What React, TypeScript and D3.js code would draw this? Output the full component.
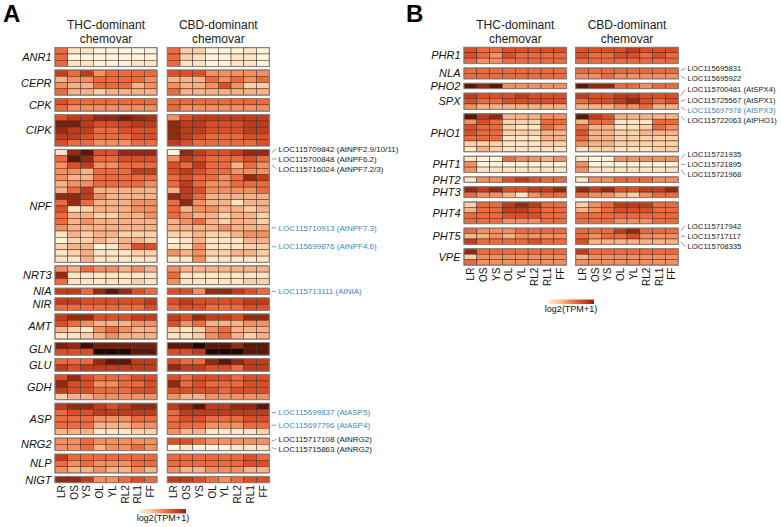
import React from 'react';
import * as d3 from 'd3';

// ---------- categories ----------
const SAMPLES = ['LR', 'OS', 'YS', 'OL', 'YL', 'RL2', 'RL1', 'FF'];
const CHEMOVARS = ['THC-dominant', 'CBD-dominant'];
const CHEMOVAR_SUFFIX = 'chemovar';

// ---------- Panel A values (relative log2(TPM+1), 0 = lowest, 10 = highest) ----------
const ANR1_THC = [[5,1,1,0,0,0,0,0],[5,0,0,0,0,0,0,0],[5,1,1,0,0,0,1,1]];
const ANR1_CBD = [[5,2,2,0,0,0,1,0],[5,2,1,0,0,1,1,0],[5,1,1,0,0,1,1,0]];
const CEPR_THC = [[7,5,7,4,5,5,5,5],[3,4,4,5,5,5,5,4],[4,3,3,5,5,5,3,4],[5,3,3,2,3,3,3,3]];
const CEPR_CBD = [[6,6,6,4,4,4,4,4],[3,3,3,5,4,5,4,5],[4,3,3,4,6,4,2,2],[5,3,3,3,3,3,3,3]];
const CPK_THC = [[6,5,5,5,5,5,5,5],[5,4,4,4,4,4,4,4]];
const CPK_CBD = [[5,5,5,5,5,5,5,5],[5,4,4,4,4,4,4,4]];
const CIPK_THC = [[6,7,7,8,8,8.5,8,7.5],[8.5,8.5,7,6,6,6.5,7,7],[8,7,7,5,5,6,6,6],[7,7,6,5,5,5,6,6],[6,5,5,4,4,4,5,5]];
const CIPK_CBD = [[4,6,7,7,7,7,7,7],[8,7,7,6,6,6,7,7],[8,7,7,6,6,6,7,7],[8,7,6,5,5,5,6,6],[7,6,5,5,5,5,5,6]];
const NPF_THC = [
  [1,8,9,6,6,8,8,8],[5,9,8,5,5,6,6,6],[4,6,7,4,4,5,5,5],[4,4,3,5,5,5,7,7],
  [4,3,3,5,5,5,5,5],[3,4,4,5,5,5,5,4],[3,5,7,3,3,3,3,3],[8,8,7,4,3,3,3,3],
  [5,8,5,3,3,3,4,4],[6,1,2,3,3,3,4,4],[5,3,3,2,2,3,3,4],[5,3,4,3,3,3,3,3],
  [4,3,3,3,3,3,3,3],[1,3,2,3,3,2,2,2],[0,2,2,3,2,3,3,2],[2,3,3,0,1,3,6,6],
  [1,2,3,1,1,1,2,2],[1,1,3,1,1,1,1,1],
];
const NPF_CBD = [
  [0,8,7,6,6,7,8,8],[4,7,6,5,5,5,6,5],[6,5,7,5,5,3,5,4],[6,7,6,5,5,4,4,4],
  [5,6,5,5,4,5,8,7],[5,7,5,4,4,5,5,5],[3,7,6,4,4,4,4,5],[8,7,5,3,3,3,3,3],
  [5,8,4,3,3,1,3,3],[5,3,4,4,3,3,2,3],[5,4,3,3,2,3,3,2],[3,4,5,3,2,3,3,2],
  [3,3,3,3,4,3,3,3],[2,2,3,2,2,3,4,4],[0,1,3,1,1,1,3,3],[1,1,4,1,1,1,2,2],
  [4,3,4,2,2,3,3,2],[1,1,4,1,1,1,1,1],
];
const NRT3_THC = [[4,3,5,4,4,3,4,3],[8,1,1,1,1,1,1,1],[5,1,1,1,1,1,2,1]];
const NRT3_CBD = [[4,3,3,3,3,3,3,3],[5,1,1,1,1,1,1,1],[4,1,1,1,1,1,2,2]];
const NIA_THC = [[7,7,5,8,9,8,6,5]];
const NIA_CBD = [[6,6,4,8,8,7,6,5]];
const NIR_THC = [[7,7,6,6,6,6,6,7],[5,5,5,5,5,5,5,6]];
const NIR_CBD = [[6,7,6,6,6,6,7,7],[5,6,6,5,5,5,6,6]];
const AMT_THC = [[7,8,8,6,6,6,7,7],[6,5,4,3,3,3,4,4],[3,2,1,4,5,4,3,3],[1,1,2,3,4,3,3,3]];
const AMT_CBD = [[7,6,8,7,7,6,8,8],[6,4,5,3,3,3,4,4],[2,1,2,4,5,3,3,3],[1,1,2,4,5,3,2,3]];
const GLN_THC = [[8.5,8,9.5,8.5,8.5,8.5,8.5,8.5],[6,6,6,10,10,10,9,9]];
const GLN_CBD = [[9,9,10,9,9,8,9,9],[6,6,7,10,10,10,9,9]];
const GLU_THC = [[5,5,5,8,9,9,7,7],[7,6,7,7,7,7,7,7]];
const GLU_CBD = [[6,5,5,8,9,8,7,7],[8,7,7,6,6,5,7,7]];
const GDH_THC = [[6,8,6,5,5,5,6,6],[8,6,6,4,4,5,5,6],[7,6,6,5,5,5,6,6],[2,3,3,4,4,4,4,4]];
const GDH_CBD = [[6,5,6,6,6,5,6,6],[8,5,6,5,5,5,6,6],[6,6,6,6,5,6,6,6],[4,3,3,4,4,4,4,4]];
const ASP_THC = [[7,8,8,7,6,7,8,8],[5,6,6,7,7,7,7,7],[5,5,5,4,4,4,5,5],[5,5,5,3,3,3,4,4],[3,3,3,1,1,1,2,2]];
const ASP_CBD = [[7,8,9,7,7,8,8,9],[5,7,7,7,7,7,7,7],[5,6,6,5,5,5,6,6],[5,5,5,4,4,4,5,5],[4,3,3,1,1,1,1,2]];
const NRG2_THC = [[4,4,5,4,4,4,4,4],[4,4,5,3,4,4,5,4]];
const NRG2_CBD = [[6,6,5,4,4,4,4,4],[0,1,0,0,0,1,1,1]];
const NLP_THC = [[7,5,5,5,5,5,5,5],[5,4,5,4,4,4,5,5],[4,3,3,4,3,3,4,3]];
const NLP_CBD = [[5,5,5,5,5,5,6,5],[5,5,5,5,5,5,6,6],[4,3,3,4,4,4,3,3]];
const NIGT_THC = [[8,8,7,4,4,5,6,5]];
const NIGT_CBD = [[7,7,6,5,4,5,6,6]];

// ---------- Panel B values ----------
const PHR1_THC = [[6,5,5,6,6,6,6,6],[6,5,4,6,5,5,5,5],[5,4,4,5,5,5,5,5]];
const PHR1_CBD = [[6,6,6,6,7,6,6,6],[6,5,5,6,6,5,6,5],[5,5,5,5,5,5,5,5]];
const NLA_THC = [[5,5,5,5,5,5,5,5],[5,5,5,5,5,5,5,5]];
const NLA_CBD = [[5,5,5,5,5,5,5,5],[4,4,5,4,4,4,4,4]];
const PHO2_THC = [[9,8,9,4,4,4,4,4]];
const PHO2_CBD = [[9,8,8,5,5,4,5,5]];
const SPX_THC = [[7,6,6,6,7,6,6,6],[6,5,5,6,6,6,6,6],[4,3,3,3,3,3,3,3]];
const SPX_CBD = [[7,6,6,7,7,6,6,6],[5,6,6,7,8,6,5,6],[3,3,3,4,4,5,3,3]];
const PHO1_THC = [[9,7,8,3,3,3,4,4],[4,6,5,2,2,2,5,5],[6,5,5,2,1,1,5,4],[6,5,5,2,2,2,3,3],[5,5,5,1,1,1,3,3],[2,2,2,1,1,1,2,2],[1,3,2,1,1,1,1,1]];
const PHO1_CBD = [[9,7,6,3,3,3,3,3],[3,5,5,1,1,1,5,5],[5,3,3,1,1,2,5,4],[6,3,3,2,2,3,3,3],[5,3,3,2,2,2,2,2],[4,3,3,2,2,2,2,2],[1,2,2,1,1,1,2,2]];
const PHT1_THC = [[1,0,0,5,4,4,3,4],[4,0,0,0,0,0,0,0],[4,1,1,1,1,1,1,1]];
const PHT1_CBD = [[1,0,0,4,4,4,4,4],[4,0,0,0,0,0,0,0],[4,1,1,1,1,1,1,1]];
const PHT2_THC = [[1,4,4,6,7,6,5,5]];
const PHT2_CBD = [[1,4,4,5,5,5,4,4]];
const PHT3_THC = [[8,7,8,6,6,7,7,8],[5,4,4,3,1,4,5,5]];
const PHT3_CBD = [[8,7,8,6,6,7,7,8],[5,4,4,3,2,4,5,5]];
const PHT4_THC = [[2,5,5,7,8,7,5,5],[3,5,5,7,7,6,5,5],[5,5,5,6,6,6,5,5],[5,5,5,4,4,4,5,5]];
const PHT4_CBD = [[2,4,5,7,7,7,5,5],[3,4,5,6,6,6,5,5],[5,5,5,5,5,5,5,5],[5,5,5,4,4,4,5,5]];
const PHT5_THC = [[5,4,4,4,5,5,5,5],[3,3,4,3,4,4,4,4],[7,5,5,5,5,6,5,5]];
const PHT5_CBD = [[5,5,5,7,8,5,5,5],[5,4,5,5,6,4,4,4],[6,3,3,3,3,3,3,3]];
const VPE_THC = [[8,5,5,5,5,5,5,5],[2,4,4,4,4,4,4,4],[5,4,4,4,4,4,4,4]];
const VPE_CBD = [[7,5,5,5,5,5,5,5],[3,4,4,4,4,4,4,4],[4,4,4,4,4,4,4,4]];

type Group = { name: string; thc: number[][]; cbd: number[][] };
type Label = { group: string; row: number; text: string; blue?: boolean };

const GROUPS_A: Group[] = [
  { name: 'ANR1', thc: ANR1_THC, cbd: ANR1_CBD },
  { name: 'CEPR', thc: CEPR_THC, cbd: CEPR_CBD },
  { name: 'CPK', thc: CPK_THC, cbd: CPK_CBD },
  { name: 'CIPK', thc: CIPK_THC, cbd: CIPK_CBD },
  { name: 'NPF', thc: NPF_THC, cbd: NPF_CBD },
  { name: 'NRT3', thc: NRT3_THC, cbd: NRT3_CBD },
  { name: 'NIA', thc: NIA_THC, cbd: NIA_CBD },
  { name: 'NIR', thc: NIR_THC, cbd: NIR_CBD },
  { name: 'AMT', thc: AMT_THC, cbd: AMT_CBD },
  { name: 'GLN', thc: GLN_THC, cbd: GLN_CBD },
  { name: 'GLU', thc: GLU_THC, cbd: GLU_CBD },
  { name: 'GDH', thc: GDH_THC, cbd: GDH_CBD },
  { name: 'ASP', thc: ASP_THC, cbd: ASP_CBD },
  { name: 'NRG2', thc: NRG2_THC, cbd: NRG2_CBD },
  { name: 'NLP', thc: NLP_THC, cbd: NLP_CBD },
  { name: 'NIGT', thc: NIGT_THC, cbd: NIGT_CBD },
];

const GROUPS_B: Group[] = [
  { name: 'PHR1', thc: PHR1_THC, cbd: PHR1_CBD },
  { name: 'NLA', thc: NLA_THC, cbd: NLA_CBD },
  { name: 'PHO2', thc: PHO2_THC, cbd: PHO2_CBD },
  { name: 'SPX', thc: SPX_THC, cbd: SPX_CBD },
  { name: 'PHO1', thc: PHO1_THC, cbd: PHO1_CBD },
  { name: 'PHT1', thc: PHT1_THC, cbd: PHT1_CBD },
  { name: 'PHT2', thc: PHT2_THC, cbd: PHT2_CBD },
  { name: 'PHT3', thc: PHT3_THC, cbd: PHT3_CBD },
  { name: 'PHT4', thc: PHT4_THC, cbd: PHT4_CBD },
  { name: 'PHT5', thc: PHT5_THC, cbd: PHT5_CBD },
  { name: 'VPE', thc: VPE_THC, cbd: VPE_CBD },
];

const LABELS_A: Label[] = [
  { group: 'NPF', row: 0, text: 'LOC115709842 (AtNPF2.9/10/11)' },
  { group: 'NPF', row: 1, text: 'LOC115700848 (AtNPF6.2)' },
  { group: 'NPF', row: 2, text: 'LOC115716024 (AtNPF7.2/3)' },
  { group: 'NPF', row: 12, text: 'LOC115710913 (AtNPF7.3)', blue: true },
  { group: 'NPF', row: 15, text: 'LOC115699876 (AtNPF4.6)', blue: true },
  { group: 'NIA', row: 0, text: 'LOC115713111 (AtNIA)', blue: true },
  { group: 'ASP', row: 1, text: 'LOC115699837 (AtASP5)', blue: true },
  { group: 'ASP', row: 3, text: 'LOC115697796 (AtASP4)', blue: true },
  { group: 'NRG2', row: 0, text: 'LOC115717108 (AtNRG2)' },
  { group: 'NRG2', row: 1, text: 'LOC115715863 (AtNRG2)' },
];

const LABELS_B: Label[] = [
  { group: 'NLA', row: 0, text: 'LOC115695831' },
  { group: 'NLA', row: 1, text: 'LOC115695922' },
  { group: 'SPX', row: 0, text: 'LOC115700481 (AtSPX4)' },
  { group: 'SPX', row: 1, text: 'LOC115725567 (AtSPX1)' },
  { group: 'SPX', row: 2, text: 'LOC115697978 (AtSPX3)', blue: true },
  { group: 'PHO1', row: 0, text: 'LOC115722063 (AtPHO1)' },
  { group: 'PHT1', row: 0, text: 'LOC115721935' },
  { group: 'PHT1', row: 1, text: 'LOC115721895' },
  { group: 'PHT1', row: 2, text: 'LOC115721968' },
  { group: 'PHT5', row: 0, text: 'LOC115717942' },
  { group: 'PHT5', row: 1, text: 'LOC115717117' },
  { group: 'PHT5', row: 2, text: 'LOC115708335' },
];

const LEGEND_TITLE = 'log2(TPM+1)';

// ---------- styling ----------
const FONT = '"Liberation Sans", Arial, Helvetica, sans-serif';
const color = d3
  .scaleLinear<string>()
  .domain([0, 1, 2, 3, 4, 5, 6, 7, 8, 9, 10])
  .range(['#fff4dd', '#fee5c5', '#fcd0a8', '#f9b287', '#f48f61', '#ec6a3d', '#dc4e27', '#bf3c1d', '#922a14', '#5a170a', '#200604'])
  .interpolate(d3.interpolateRgb)
  .clamp(true);

function spread(targets: number[], spacing: number): number[] {
  let clusters = targets.map((t) => ({ items: [t] }));
  const start = (c: { items: number[] }) => (d3.mean(c.items) as number) - ((c.items.length - 1) * spacing) / 2;
  let merged = true;
  while (merged) {
    merged = false;
    for (let i = 1; i < clusters.length; i++) {
      const a = clusters[i - 1];
      const b = clusters[i];
      const aEnd = start(a) + (a.items.length - 1) * spacing;
      if (start(b) - aEnd < spacing) {
        clusters.splice(i - 1, 2, { items: [...a.items, ...b.items] });
        merged = true;
        break;
      }
    }
  }
  return clusters.flatMap((c) => c.items.map((_, k) => start(c) + k * spacing));
}

type PanelProps = {
  letter: string;
  letterX: number;
  xThc: number;
  xCbd: number;
  blockW: number;
  top: number;
  bottom: number;
  gap: number;
  groups: Group[];
  labels: Label[];
  labelFont: number;
  labelSpacing: number;
  legendX: number;
  legendY: number;
  gradId: string;
};

function Panel(p: PanelProps) {
  const totalRows = d3.sum(p.groups, (g) => g.thc.length);
  const rowH = (p.bottom - p.top - p.gap * (p.groups.length - 1)) / totalRows;
  const x = d3.scaleBand<string>().domain(SAMPLES).range([0, p.blockW]).padding(0);
  const cw = x.bandwidth();

  let yCursor = p.top;
  const layout = p.groups.map((g) => {
    const y0 = yCursor;
    const h = g.thc.length * rowH;
    yCursor += h + p.gap;
    return { g, y0, h };
  });
  const yOf = (name: string) => layout.find((l) => l.g.name === name)!;

  const blocks = [
    { x0: p.xThc, key: 'thc' as const, title: CHEMOVARS[0] },
    { x0: p.xCbd, key: 'cbd' as const, title: CHEMOVARS[1] },
  ];
  const xRight = p.xCbd + p.blockW;

  const targets = p.labels.map((l) => yOf(l.group).y0 + (l.row + 0.5) * rowH);
  const labelYs = spread(targets, p.labelSpacing);

  const legendW = 46;
  const legendH = 4.5;

  return (
    <g>
      <text x={p.letterX} y={21.5} fontSize={24} fontWeight="bold" fontFamily={FONT} fill="#000">
        {p.letter}
      </text>
      {blocks.map((b) => (
        <g key={b.key}>
          <text x={b.x0 + p.blockW / 2} y={29.4} fontSize={12} fontFamily={FONT} fill="#222" textAnchor="middle">
            {b.title}
          </text>
          <text x={b.x0 + p.blockW / 2} y={42.9} fontSize={12} fontFamily={FONT} fill="#222" textAnchor="middle">
            {CHEMOVAR_SUFFIX}
          </text>
        </g>
      ))}
      {layout.map(({ g, y0, h }) => (
        <g key={g.name}>
          <text
            x={p.xThc - 3.5}
            y={y0 + h / 2}
            dy="0.36em"
            fontSize={11}
            fontStyle="italic"
            fontFamily={FONT}
            textAnchor="end"
            fill="#111"
          >
            {g.name}
          </text>
          {blocks.map((b) => (
            <g key={b.key}>
              {g[b.key].map((row, ri) =>
                row.map((v, ci) => (
                  <rect
                    key={`${ri}-${ci}`}
                    x={b.x0 + (x(SAMPLES[ci]) as number)}
                    y={y0 + ri * rowH}
                    width={cw}
                    height={rowH}
                    fill={color(v)}
                    stroke="#3e2c22"
                    strokeWidth={0.5}
                  />
                ))
              )}
              <rect x={b.x0} y={y0} width={p.blockW} height={h} fill="none" stroke="#8a7e76" strokeWidth={1.1} />
            </g>
          ))}
        </g>
      ))}
      {blocks.map((b) =>
        SAMPLES.map((s) => (
          <text
            key={b.key + s}
            transform={`translate(${b.x0 + (x(s) as number) + cw / 2},${p.bottom + 2.5}) rotate(-90)`}
            dy="0.36em"
            fontSize={10}
            fontFamily={FONT}
            textAnchor="end"
            fill="#111"
          >
            {s}
          </text>
        ))
      )}
      {p.labels.map((l, i) => (
        <g key={l.text}>
          <line x1={xRight + 2.5} y1={targets[i]} x2={xRight + 7} y2={labelYs[i]} stroke="#555" strokeWidth={0.6} />
          <text
            x={xRight + 9.3}
            y={labelYs[i]}
            dy="0.35em"
            fontSize={p.labelFont}
            fontFamily={FONT}
            fill={l.blue ? '#3d87c4' : '#1a1a1a'}
          >
            {l.text}
          </text>
        </g>
      ))}
      <defs>
        <linearGradient id={p.gradId} x1="0" x2="1" y1="0" y2="0">
          {d3.range(0, 1.0001, 0.1).map((t) => (
            <stop key={t} offset={t} stopColor={color(0.6 + t * 7.6)} />
          ))}
        </linearGradient>
      </defs>
      <rect x={p.legendX} y={p.legendY} width={legendW} height={legendH} fill={`url(#${p.gradId})`} />
      <text
        x={p.legendX + legendW / 2}
        y={p.legendY + legendH + 7.5}
        fontSize={9}
        fontFamily={FONT}
        textAnchor="middle"
        fill="#111"
      >
        {LEGEND_TITLE}
      </text>
    </g>
  );
}

export default function App() {
  return (
    <svg
      width={781}
      height={527}
      viewBox="0 0 781 527"
      style={{ position: 'absolute', left: 0, top: 0, background: '#fff' }}
    >
      <rect width={781} height={527} fill="#fff" />
      <Panel
        letter="A"
        letterX={3}
        xThc={55}
        xCbd={167.3}
        blockW={102}
        top={47.7}
        bottom={482.7}
        gap={3.5}
        groups={GROUPS_A}
        labels={LABELS_A}
        labelFont={8}
        labelSpacing={10}
        legendX={140}
        legendY={509}
        gradId="gradA"
      />
      <Panel
        letter="B"
        letterX={406}
        xThc={464}
        xCbd={575.7}
        blockW={102.6}
        top={47.3}
        bottom={265.1}
        gap={4.4}
        groups={GROUPS_B}
        labels={LABELS_B}
        labelFont={7.7}
        labelSpacing={10.4}
        legendX={548}
        legendY={299.5}
        gradId="gradB"
      />
    </svg>
  );
}
